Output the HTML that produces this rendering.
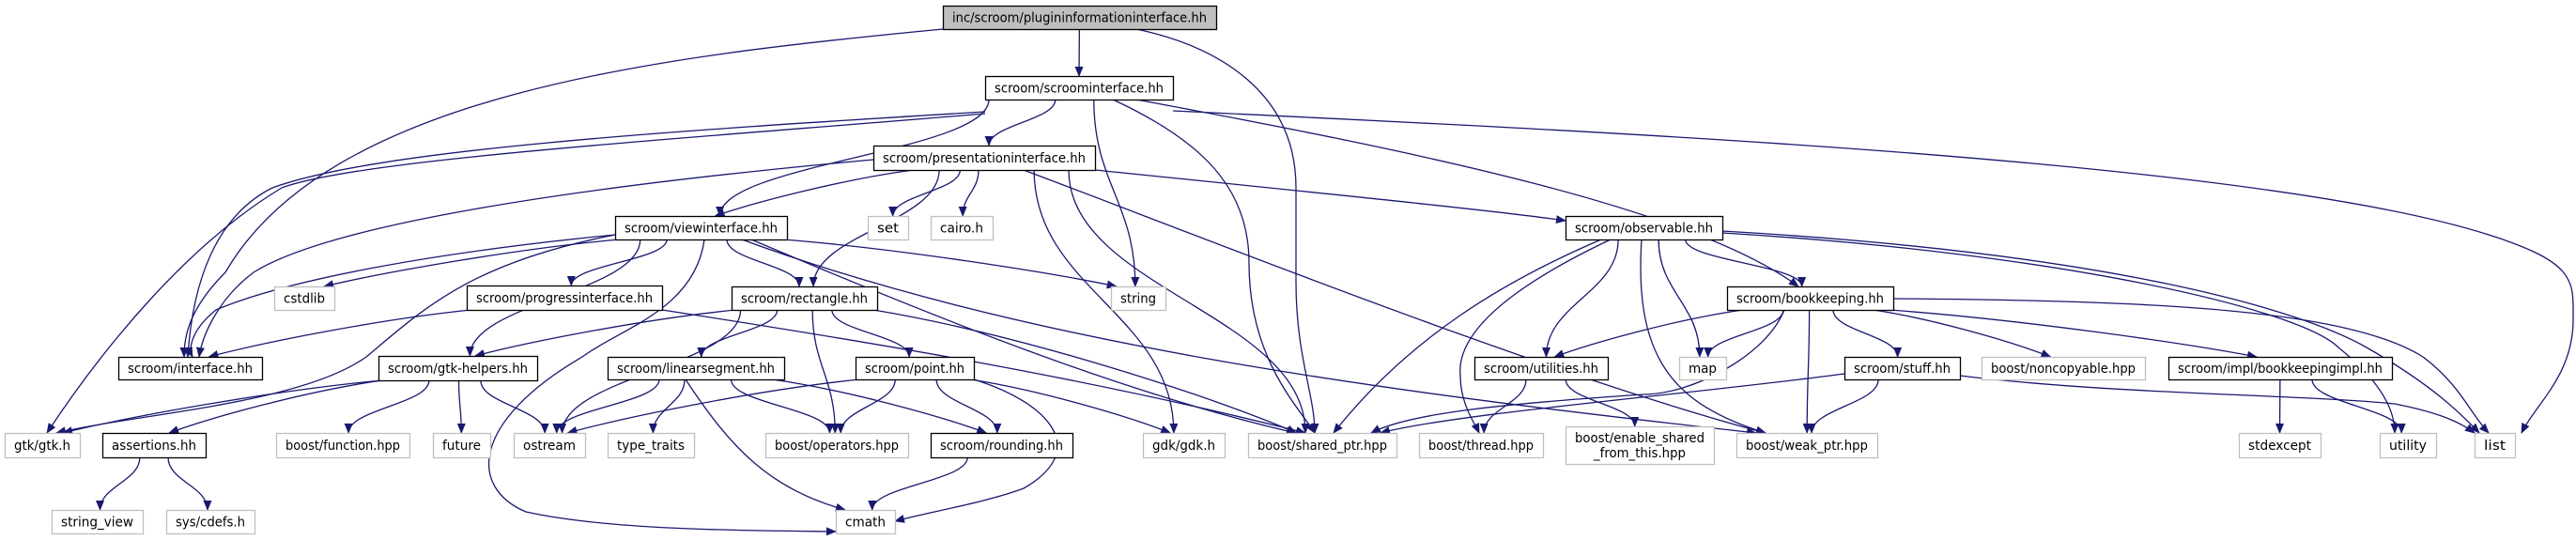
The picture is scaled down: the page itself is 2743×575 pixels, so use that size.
<!DOCTYPE html>
<html><head><meta charset="utf-8"><style>
html,body{margin:0;padding:0;background:#fff;}
svg{display:block;}
text{font-family:"DejaVu Sans Condensed","DejaVu Sans","Liberation Sans",sans-serif;font-size:14px;fill:#000;}
</style></head><body>
<svg id="g" width="2743" height="575" viewBox="0 0 2743 575" xmlns="http://www.w3.org/2000/svg">
<defs><marker id="a" markerWidth="11" markerHeight="9" refX="10" refY="4.5" orient="auto" markerUnits="userSpaceOnUse"><path d="M0,0 L11,4.5 L0,9 z" fill="#191970"/></marker></defs>
<g id="edges" fill="none" stroke="#191970" stroke-width="1.3"></g>
<g id="nodes"></g>
</svg>
<script>
var N={
plug:[1004,6,1295,31,"inc/scroom/plugininformationinterface.hh",2],
si:[1049,81,1249,106,"scroom/scroominterface.hh",1],
pi:[930,155,1166,181,"scroom/presentationinterface.hh",1],
vi:[655,230,838,255,"scroom/viewinterface.hh",1],
set:[924,230,967,255,"set",0],
cairo:[991,230,1057,255,"cairo.h",0],
obs:[1667,230,1834,255,"scroom/observable.hh",1],
cstdlib:[292,305,356,330,"cstdlib",0],
prog:[497,304,705,330,"scroom/progressinterface.hh",1],
rect:[779,305,934,330,"scroom/rectangle.hh",1],
string:[1183,305,1241,330,"string",0],
bk:[1839,305,2016,330,"scroom/bookkeeping.hh",1],
iface:[126,380,279,404,"scroom/interface.hh",1],
gh:[403,379,572,405,"scroom/gtk-helpers.hh",1],
ls:[647,380,835,404,"scroom/linearsegment.hh",1],
pt:[911,380,1037,404,"scroom/point.hh",1],
ut:[1570,380,1712,404,"scroom/utilities.hh",1],
map:[1788,380,1838,404,"map",0],
stuff:[1964,380,2087,404,"scroom/stuff.hh",1],
nc:[2110,380,2284,404,"boost/noncopyable.hpp",0],
bki:[2309,380,2547,404,"scroom/impl/bookkeepingimpl.hh",1],
gtk:[5,461,85,487,"gtk/gtk.h",0],
as:[109,461,219,487,"assertions.hh",1],
fn:[294,461,436,487,"boost/function.hpp",0],
fut:[461,461,522,487,"future",0],
os:[547,461,623,487,"ostream",0],
tt:[647,461,739,487,"type_traits",0],
op:[815,461,967,487,"boost/operators.hpp",0],
rd:[991,461,1142,487,"scroom/rounding.hh",1],
gdk:[1217,461,1304,487,"gdk/gdk.h",0],
sp:[1329,461,1487,487,"boost/shared_ptr.hpp",0],
th:[1511,461,1643,487,"boost/thread.hpp",0],
es:[1667,454,1825,494,"boost/enable_shared|_from_this.hpp",0],
wp:[1849,461,1999,487,"boost/weak_ptr.hpp",0],
se:[2384,461,2471,487,"stdexcept",0],
uty:[2534,461,2594,487,"utility",0],
list:[2635,461,2678,487,"list",0],
sv:[55,543,152,568,"string_view",0],
cd:[177,543,271,568,"sys/cdefs.h",0],
cm:[890,543,953,568,"cmath",0]
};
var E=[["plug","si"],["plug","iface"],["plug","sp"],
["si","iface"],["si","gtk"],["si","vi"],["si","pi"],["si","string"],["si","sp"],["si","bk"],["si","list"],
["pi","iface"],["pi","vi"],["pi","rect"],["pi","set"],["pi","cairo"],["pi","gdk"],["pi","sp"],["pi","wp"],["pi","obs"],
["vi","iface"],["vi","gtk"],["vi","cstdlib"],["vi","prog"],["vi","rect"],["vi","gh"],["vi","string"],["vi","sp"],["vi","wp"],["vi","cm"],
["prog","iface"],["prog","sp"],
["rect","gh"],["rect","ls"],["rect","pt"],["rect","op"],["rect","os"],["rect","sp"],
["gh","gtk"],["gh","as"],["gh","fn"],["gh","fut"],["gh","os"],
["as","sv"],["as","cd"],
["ls","os"],["ls","tt"],["ls","cm"],["ls","op"],["ls","rd"],
["pt","os"],["pt","op"],["pt","rd"],["pt","gdk"],["pt","cm"],
["rd","cm"],
["obs","sp"],["obs","th"],["obs","ut"],["obs","wp"],["obs","map"],["obs","bk"],["obs","uty"],["obs","list"],
["bk","ut"],["bk","map"],["bk","sp"],["bk","wp"],["bk","stuff"],["bk","nc"],["bk","bki"],["bk","list"],
["ut","th"],["ut","es"],
["stuff","sp"],["stuff","wp"],["stuff","list"],
["bki","se"],["bki","uty"]];
var P={
"plug|iface":"M1004,31 C700,60 350,100 240,290 C200,330 196,360 196,380",
"plug|sp":"M1210,31 C1300,50 1380,100 1380,200 L1380,300 C1380,380 1400,420 1400,461",
"si|list":"M1249,118 C1700,140 2400,170 2650,250 C2745,280 2740,300 2740,340 C2740,400 2700,430 2685,461",
"si|iface":"M1049,119 C700,140 400,160 290,200 C230,230 205,300 200,380",
"si|gtk":"M1049,121 C700,150 380,170 300,200 C200,260 110,370 50,461",
"si|sp":"M1185,106 C1280,150 1330,200 1330,280 C1330,380 1380,430 1400,461",
"si|bk":"M1210,106 C1500,160 1800,220 1915,305",
"pi|iface":"M930,170 C600,200 350,240 270,290 C230,320 215,360 212,380",
"pi|obs":"M1166,181 C1400,205 1600,225 1667,235",
"pi|wp":"M1090,181 C1300,260 1650,400 1880,461",
"vi|cm":"M750,255 C740,330 660,350 620,380 C500,450 500,520 560,545 C650,565 800,565 890,566",
"vi|wp":"M790,255 C1100,370 1500,420 1870,461",
"vi|sp":"M800,255 C1000,340 1200,420 1380,461",
"vi|iface":"M655,250 C450,270 300,300 230,330 C205,350 200,370 205,380",
"vi|gtk":"M655,250 C500,280 450,330 390,380 C320,430 150,440 60,461",
"prog|sp":"M705,330 C900,360 1150,400 1390,461",
"obs|uty":"M1834,248 C2200,270 2450,330 2490,370 C2540,410 2550,440 2550,461",
"obs|list":"M1834,246 C2250,270 2450,330 2520,370 C2590,410 2620,440 2640,461",
"bk|list":"M2016,318 C2300,320 2500,330 2580,380 C2620,410 2630,440 2650,461",
"stuff|list":"M2087,400 C2250,420 2450,420 2550,430 C2600,440 2620,450 2635,461",
"bk|sp":"M1900,330 C1880,380 1800,420 1750,420 C1600,430 1500,440 1460,461",
"stuff|sp":"M1964,398 C1800,420 1550,440 1470,461",
"pt|cm":"M1037,404 C1120,430 1160,480 1090,520 C1050,535 990,545 953,555",
"ls|cm":"M730,404 C780,480 820,520 900,543",
"obs|sp":"M1705,255 C1600,300 1500,360 1420,461",
"obs|th":"M1715,255 C1620,300 1550,350 1555,400 C1555,430 1570,450 1575,461",
"obs|wp":"M1748,255 C1740,380 1780,430 1880,461"
};
var ns="http://www.w3.org/2000/svg";
var eg=document.getElementById("edges"),ng=document.getElementById("nodes");
function cx(n){return (n[0]+n[2])/2;}
E.forEach(function(e){
 var s=N[e[0]],t=N[e[1]];
 var d=P[e[0]+"|"+e[1]];
 if(!d){
 var sc=cx(s),tc=cx(t);
 var sx=sc+(tc-sc)*0.25; sx=Math.max(s[0]+4,Math.min(s[2]-4,sx));
 var sy=s[3];
 var tx=tc+(sc-tc)*0.05; tx=Math.max(t[0]+4,Math.min(t[2]-4,tx));
 var ty=t[1];
 var dy=ty-sy;
 if(Math.abs(tx-sx)>dy*2.5){
   d="M"+sx+","+sy+" C"+(sx+(tx-sx)*0.35)+","+(sy+dy*0.2)+" "+(tx-(tx-sx)*0.2)+","+(ty-dy*0.3)+" "+tx+","+ty;
 } else {
   d="M"+sx+","+sy+" C"+sx+","+(sy+dy*0.45)+" "+tx+","+(ty-dy*0.45)+" "+tx+","+ty;
 }}
 var p=document.createElementNS(ns,"path");
 p.setAttribute("d",d);
 p.setAttribute("marker-end","url(#a)");
 eg.appendChild(p);
});
for(var k in N){var n=N[k];
 var r=document.createElementNS(ns,"rect");
 r.setAttribute("x",n[0]+0.5);r.setAttribute("y",n[1]+0.5);r.setAttribute("width",n[2]-n[0]);r.setAttribute("height",n[3]-n[1]);
 r.setAttribute("fill",n[5]==2?"#bfbfbf":"#fff");
 r.setAttribute("stroke",n[5]?"#000":"#bfbfbf");r.setAttribute("stroke-width",1.3);
 ng.appendChild(r);
 var lines=n[4].split("|");
 lines.forEach(function(l,i){
  var t=document.createElementNS(ns,"text");
  t.setAttribute("x",cx(n));t.setAttribute("text-anchor","middle");
  var y=lines.length==1?(n[1]+n[3])/2+5:n[1]+17+i*16;
  t.setAttribute("y",y);
  var w=(n[2]-n[0])-20;
  if(lines.length>1) w=(i==0?n[2]-n[0]-20:(n[2]-n[0])*0.62);
  t.setAttribute("textLength",w);t.setAttribute("lengthAdjust","spacingAndGlyphs");
  t.textContent=l;ng.appendChild(t);
 });
}
</script>
</body></html>
